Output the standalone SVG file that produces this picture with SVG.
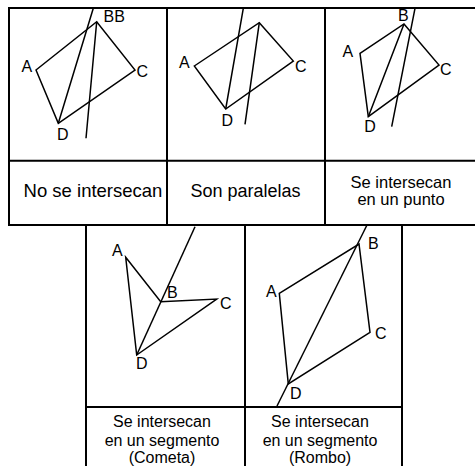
<svg xmlns="http://www.w3.org/2000/svg" width="475" height="466" viewBox="0 0 475 466">
<style>
.grid{fill:none;stroke:#000;stroke-width:2}
.shape{fill:none;stroke:#000;stroke-width:1.5;stroke-linejoin:miter}
.lbl{font-family:"Liberation Sans",Arial,sans-serif;font-size:16px;fill:#000}
.cap{font-family:"Liberation Sans",Arial,sans-serif;fill:#000;text-anchor:middle}
</style>
<rect width="475" height="466" fill="#fff"/>
<g id="tables">
<path class="grid" d="M9,226 V8 H484 M9,160.7 H484 M9,225 H484 M167,8 V226 M325,8 V226"/>
<path class="grid" d="M86,470 V225 M245,470 V225 M402,470 V225 M86,407 H402"/>
</g>
<g id="cell1">
<path class="shape" d="M36,70 L96.7,21.7 L135,70 L58.3,123.3 Z"/>
<text class="lbl" x="21.5" y="71.7">A</text>
<text class="lbl" x="103.5" y="21.7">BB</text>
<text class="lbl" x="136.5" y="76.7">C</text>
<text class="lbl" x="57" y="140">D</text>
</g>
<g id="cell2">
<path class="shape" d="M194.3,66 L259.3,22.7 L293.3,61 L225.7,109 Z"/>
<text class="lbl" x="179" y="68.3">A</text>
<text class="lbl" x="295" y="71.7">C</text>
<text class="lbl" x="221.5" y="126">D</text>
</g>
<g id="cell3">
<path class="shape" d="M360,53.3 L404,24 L439,65 L368.3,116.7 Z"/>
<text class="lbl" x="398" y="20.7">B</text>
<text class="lbl" x="342.5" y="57.3">A</text>
<text class="lbl" x="440" y="75">C</text>
<text class="lbl" x="364.3" y="131.7">D</text>
</g>
<g id="cell4">
<path class="shape" d="M125.7,257.3 L160.7,301.7 L216.7,299 L136.7,355 Z"/>
<text class="lbl" x="112" y="255.7">A</text>
<text class="lbl" x="167" y="298.3">B</text>
<text class="lbl" x="220" y="309.3">C</text>
<text class="lbl" x="136" y="369">D</text>
</g>
<g id="cell5">
<path class="shape" d="M279.3,293.3 L359,244 L370,332.3 L288.3,384 Z"/>
<text class="lbl" x="266" y="297.3">A</text>
<text class="lbl" x="368" y="249.3">B</text>
<text class="lbl" x="375" y="339.3">C</text>
<text class="lbl" x="290" y="399">D</text>
</g>
<g id="connectors">
<path class="shape" d="M58.3,123.3 L93.3,8.3 M96.7,21.7 L86,138.3"/>
<path class="shape" d="M225.7,109 L243.3,8.3 M259.3,22.7 L245,124.3"/>
<path class="shape" d="M368.3,116.7 L404,24 M415,8.3 L391.7,126.7"/>
<path class="shape" d="M195,226.7 L136.7,355"/>
<path class="shape" d="M367,225 L277,406"/>
</g>
<g id="captions">
<text class="cap" x="93" y="197" font-size="18.5">No se intersecan</text>
<text class="cap" x="245.5" y="197" font-size="18">Son paralelas</text>
<text class="cap" x="401" y="187.5" font-size="16.5">Se intersecan</text>
<text class="cap" x="401" y="204.5" font-size="16.5">en un punto</text>
<text class="cap" x="162" y="426.7" font-size="16">Se intersecan</text>
<text class="cap" x="162" y="445.5" font-size="16">en un segmento</text>
<text class="cap" x="162" y="463.3" font-size="16">(Cometa)</text>
<text class="cap" x="320" y="426.7" font-size="16">Se intersecan</text>
<text class="cap" x="320" y="445.5" font-size="16">en un segmento</text>
<text class="cap" x="320" y="463.3" font-size="16">(Rombo)</text>
</g>
</svg>
